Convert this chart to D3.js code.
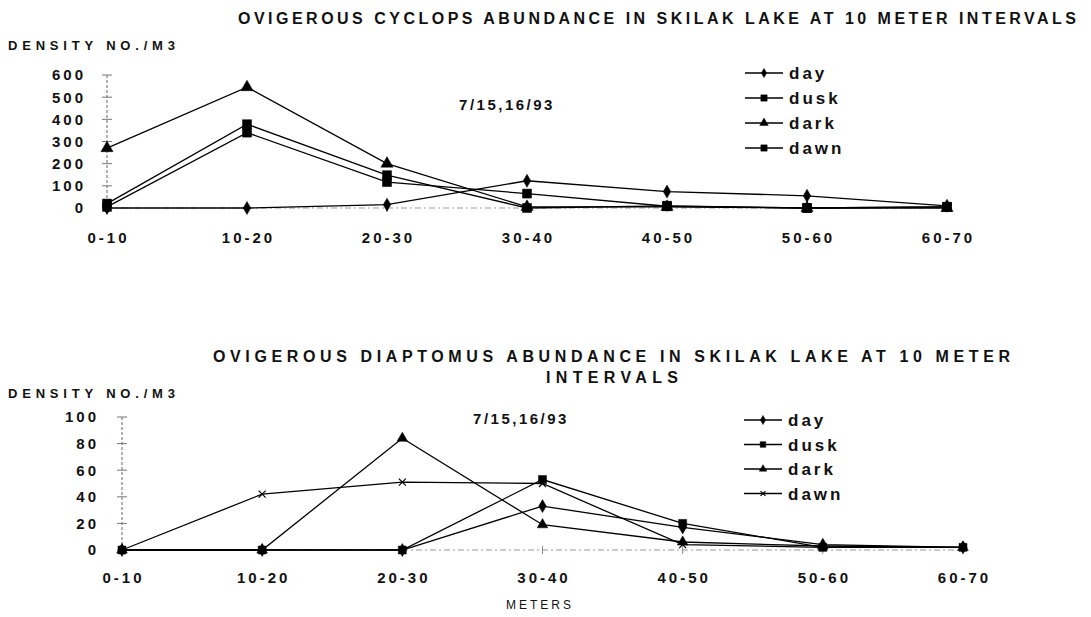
<!DOCTYPE html>
<html>
<head>
    <meta charset="utf-8">
    <title>Ovigerous abundance, Skilak Lake</title>
    <script src="https://d3js.org/d3.v7.min.js"></script>
    <style>
        body { margin: 0; background: #fff; }
        text { font-family: "Liberation Sans", Arial, sans-serif; fill: #111; }
    </style>
</head>

<body>
<div id="chart"></div>
<script type="text/javascript">

    // depth intervals (meters)
    let categories = ["0-10", "10-20", "20-30", "30-40", "40-50", "50-60", "60-70"];
    let seriesNames = ["day", "dusk", "dark", "dawn"];

    // cyclops, no./m3
    let cyclopsDay  = [0, 0, 15, 123, 74, 55, 10];
    let cyclopsDusk = [20, 378, 148, 0, 10, 0, 5];
    let cyclopsDark = [270, 545, 200, 5, 5, 0, 0];
    let cyclopsDawn = [5, 340, 117, 65, 8, 0, 5];
    let cyclopsTicks = [0, 100, 200, 300, 400, 500, 600];

    // diaptomus, no./m3
    let diaptDay  = [0, 0, 0, 33, 17, 4, 2];
    let diaptDusk = [0, 0, 0, 53, 20, 2, 2];
    let diaptDark = [0, 0, 84, 19, 6, 3, 2];
    let diaptDawn = [0, 42, 51, 50, 4, 2, 2];
    let diaptTicks = [0, 20, 40, 60, 80, 100];

    let W = 1091, H = 617;

    let svg = d3.select("#chart")
        .append("svg")
            .attr("width", W)
            .attr("height", H);

    function marker(kind, size) {
        if (kind == "x") {
            let s = size / 2;
            return "M" + (-s) + "," + (-s) + "L" + s + "," + s + "M" + (-s) + "," + s + "L" + s + "," + (-s);
        }
        let type = {diamond: d3.symbolDiamond, square: d3.symbolSquare, triangle: d3.symbolTriangle}[kind];
        return d3.symbol().type(type).size(size * size)();
    }

    function drawPanel(p) {
        let g = svg.append("g");

        let xScale = d3.scalePoint()
            .domain(categories)
            .range([p.x0, p.x1]);

        let yScale = d3.scaleLinear()
            .domain([0, d3.max(p.ticks)])
            .range([p.yBottom, p.yTop]);

        // faint dotted axes
        g.append("line")
            .attr("x1", p.x0).attr("x2", p.x1)
            .attr("y1", yScale(0)).attr("y2", yScale(0))
            .attr("stroke", "#999").attr("stroke-width", 1)
            .attr("stroke-dasharray", "6,3,2,3");
        g.append("line")
            .attr("x1", p.x0).attr("x2", p.x0)
            .attr("y1", yScale(0)).attr("y2", yScale(d3.max(p.ticks)))
            .attr("stroke", "#666").attr("stroke-width", 1)
            .attr("stroke-dasharray", "3,2");
        g.selectAll(".ytick")
            .data(p.ticks)
            .enter()
            .append("line")
            .attr("x1", p.x0 - 5).attr("x2", p.x0 + 5)
            .attr("y1", function(d) { return yScale(d); })
            .attr("y2", function(d) { return yScale(d); })
            .attr("stroke", "#777").attr("stroke-width", 1);
        g.selectAll(".xtick")
            .data(categories)
            .enter()
            .append("line")
            .attr("x1", function(d) { return xScale(d); })
            .attr("x2", function(d) { return xScale(d); })
            .attr("y1", yScale(0) - 4).attr("y2", yScale(0) + 4)
            .attr("stroke", "#888").attr("stroke-width", 1);

        // tick labels
        g.selectAll(".ylab")
            .data(p.ticks)
            .enter()
            .append("text")
            .attr("x", p.labelRight)
            .attr("y", function(d) { return yScale(d); })
            .attr("dy", "0.36em")
            .attr("text-anchor", "end")
            .attr("font-size", 15)
            .attr("font-weight", "bold")
            .attr("letter-spacing", 3)
            .text(function(d) { return d; });

        g.selectAll(".xlab")
            .data(categories)
            .enter()
            .append("text")
            .attr("x", function(d) { return xScale(d) + 1.5; })
            .attr("y", p.xLabelY)
            .attr("dy", "0.36em")
            .attr("text-anchor", "middle")
            .attr("font-size", 15)
            .attr("font-weight", "bold")
            .attr("letter-spacing", 3)
            .text(function(d) { return d; });

        // series lines and markers
        let line = d3.line()
            .x(function(d, i) { return xScale(categories[i]); })
            .y(function(d) { return yScale(d); });

        p.series.forEach(function(s) {
            g.append("path")
                .attr("d", line(s.values))
                .attr("fill", "none")
                .attr("stroke", "#000")
                .attr("stroke-width", 1.3);
            g.selectAll(null)
                .data(s.values)
                .enter()
                .append("path")
                .attr("transform", function(d, i) {
                    return "translate(" + xScale(categories[i]) + "," + yScale(d) + ")";
                })
                .attr("d", marker(s.marker, s.size))
                .attr("fill", s.marker == "x" ? "none" : "#000")
                .attr("stroke", "#000")
                .attr("stroke-width", s.marker == "x" ? 1.2 : 0.5);
        });

        // legend
        p.series.forEach(function(s, i) {
            let ly = p.legendY + i * p.legendStep;
            g.append("line")
                .attr("x1", p.legendX).attr("x2", p.legendX + 38)
                .attr("y1", ly).attr("y2", ly)
                .attr("stroke", "#000").attr("stroke-width", 1.3);
            g.append("path")
                .attr("transform", "translate(" + (p.legendX + 19) + "," + ly + ")")
                .attr("d", marker(s.marker, s.size * 0.7))
                .attr("fill", s.marker == "x" ? "none" : "#000")
                .attr("stroke", "#000")
                .attr("stroke-width", s.marker == "x" ? 1.2 : 0.5);
            g.append("text")
                .attr("x", p.legendX + 44)
                .attr("y", ly)
                .attr("dy", "0.36em")
                .attr("font-size", 17)
                .attr("font-weight", "bold")
                .attr("letter-spacing", 3)
                .text(s.name);
        });

        // date note
        g.append("text")
            .attr("x", p.dateX)
            .attr("y", p.dateY)
            .attr("dy", "0.36em")
            .attr("text-anchor", "middle")
            .attr("font-size", 15)
            .attr("font-weight", "bold")
            .attr("letter-spacing", 2.5)
            .text("7/15,16/93");

        // titles
        p.title.forEach(function(t) {
            g.append("text")
                .attr("x", t.x)
                .attr("y", t.y)
                .attr("dy", "0.36em")
                .attr("font-size", 16)
                .attr("font-weight", "bold")
                .attr("textLength", t.len)
                .attr("lengthAdjust", "spacing")
                .text(t.text);
        });

        g.append("text")
            .attr("x", 8)
            .attr("y", p.unitY)
            .attr("dy", "0.36em")
            .attr("font-size", 13)
            .attr("font-weight", "bold")
            .attr("textLength", 167)
            .attr("lengthAdjust", "spacing")
            .text("DENSITY NO./M3");
    }

    drawPanel({
        x0: 107, x1: 947, yBottom: 208, yTop: 75,
        ticks: cyclopsTicks, labelRight: 86, xLabelY: 238,
        legendX: 745, legendY: 73, legendStep: 25,
        dateX: 507, dateY: 105, unitY: 45,
        title: [{text: "OVIGEROUS CYCLOPS ABUNDANCE IN SKILAK LAKE AT 10 METER INTERVALS", x: 238, y: 18, len: 838}],
        series: [
            {name: seriesNames[0], values: cyclopsDay,  marker: "diamond",  size: 7},
            {name: seriesNames[1], values: cyclopsDusk, marker: "square",   size: 9},
            {name: seriesNames[2], values: cyclopsDark, marker: "triangle", size: 8},
            {name: seriesNames[3], values: cyclopsDawn, marker: "square",   size: 9}
        ]
    });

    drawPanel({
        x0: 122, x1: 963, yBottom: 550, yTop: 417,
        ticks: diaptTicks, labelRight: 99, xLabelY: 578,
        legendX: 744, legendY: 420, legendStep: 24.5,
        dateX: 521, dateY: 419, unitY: 393,
        title: [
            {text: "OVIGEROUS DIAPTOMUS ABUNDANCE IN SKILAK LAKE AT 10 METER", x: 213, y: 356, len: 797},
            {text: "INTERVALS", x: 546, y: 377, len: 132}
        ],
        series: [
            {name: seriesNames[0], values: diaptDay,  marker: "diamond",  size: 7},
            {name: seriesNames[1], values: diaptDusk, marker: "square",   size: 8},
            {name: seriesNames[2], values: diaptDark, marker: "triangle", size: 7},
            {name: seriesNames[3], values: diaptDawn, marker: "x",        size: 7}
        ]
    });

    svg.append("text")
        .attr("x", 540)
        .attr("y", 605)
        .attr("dy", "0.36em")
        .attr("text-anchor", "middle")
        .attr("font-size", 12)
        .attr("letter-spacing", 3)
        .text("METERS");

</script>
</body>
</html>
